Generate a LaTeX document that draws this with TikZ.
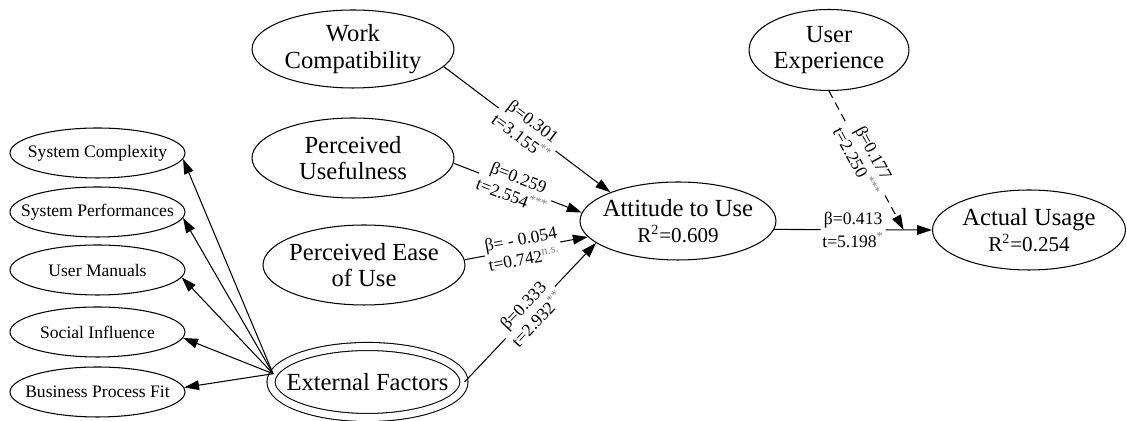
\documentclass[tikz,border=0pt]{standalone}
\usepackage{fontspec}
\setmainfont{Liberation Serif}
\usetikzlibrary{shapes.geometric,arrows.meta}
\tikzset{
  construct/.style={ellipse,draw,line width=0.6pt,inner xsep=-15pt,inner ysep=-2pt,align=center,font=\fontsize{14}{15}\selectfont},
  factor/.style={ellipse,draw,line width=0.6pt,inner xsep=-15pt,inner ysep=0pt,minimum width=3.5cm,minimum height=1cm,font=\fontsize{10}{12}\selectfont},
  link/.style={line width=0.6pt,-{Triangle[length=8.5pt,width=5.5pt]}},
  coef/.style={sloped,fill=white,inner sep=1pt,align=center,font=\fontsize{10}{11.5}\selectfont}
}
\newcommand{\signif}[1]{\textsuperscript{\color{gray}#1}}
\begin{document}
\begin{tikzpicture}[x=0.02cm,y=-0.02cm]
\useasboundingbox (0,0) rectangle (1127,421);
%NODE
\node[construct,minimum width=4.04cm,minimum height=1.56cm] (WC) at (353,49) {Work\\Compatibility};
\node[construct,minimum width=4.04cm,minimum height=1.6cm] (PU) at (353,158) {Perceived\\Usefulness};
\node[construct,minimum width=4.04cm,minimum height=1.6cm] (PEOU) at (364,265) {Perceived Ease\\of Use};
\node[construct,double,double distance=0.14cm,minimum width=3.86cm,minimum height=1.42cm] (EF) at (367.5,382) {External Factors};
\node[construct,minimum width=3.92cm,minimum height=1.56cm] (ATU) at (678,221) {Attitude to Use\\{\fontsize{12}{14}\selectfont R\textsuperscript{2}=0.609}};
\node[construct,minimum width=3.2cm,minimum height=1.62cm] (UE) at (829,50) {User\\Experience};
\node[construct,minimum width=3.86cm,minimum height=1.6cm] (AU) at (1029,230) {Actual Usage\\{\fontsize{12}{14}\selectfont R\textsuperscript{2}=0.254}};

\node[factor] (SC) at (97.5,153) {System Complexity};
\node[factor] (SP) at (97.5,212) {System Performances};
\node[factor] (UM) at (97.5,270) {User Manuals};
\node[factor] (SI) at (97.5,332) {Social Influence};
\node[factor] (BPF) at (97.5,392) {Business Process Fit};

\coordinate (hub) at (EF.175);
\path (ATU.-5) -- (AU.west) coordinate[pos=0.82] (meet);

%EDGE
\draw[link] (hub) -- (SC.-4);
\draw[link] (hub) -- (SP.-4);
\draw[link] (hub) -- (UM.-5);
\draw[link] (hub) -- (SI.-4);
\draw[link] (hub) -- (BPF.3);

\draw[link] (WC.-11) -- node[coef,pos=0.5] {β=0.301\\t=3.155\signif{**}} (ATU.157);
\draw[link] (PU.-3) -- node[coef,pos=0.48] {β=0.259\\t=2.554\signif{***}} (ATU.175);
\draw[link] (PEOU.3) -- node[coef,pos=0.47] {β= - 0.054\\t=0.742\signif{n.s.}} (ATU.190);
\draw[link] (EF.east) -- node[coef,pos=0.5] {β=0.333\\t=2.932\signif{**}} (ATU.195);
\draw[link] (ATU.-5) -- node[coef,pos=0.5,font=\fontsize{10}{13}\selectfont] {β=0.413\\t=5.198\signif{*}} (AU.west);
\draw[link,dash pattern=on 4.5pt off 3pt] (UE.south) -- node[coef,pos=0.48] {β=0.177\\t=2.250\,\signif{***}} (meet);
\end{tikzpicture}
\end{document}
